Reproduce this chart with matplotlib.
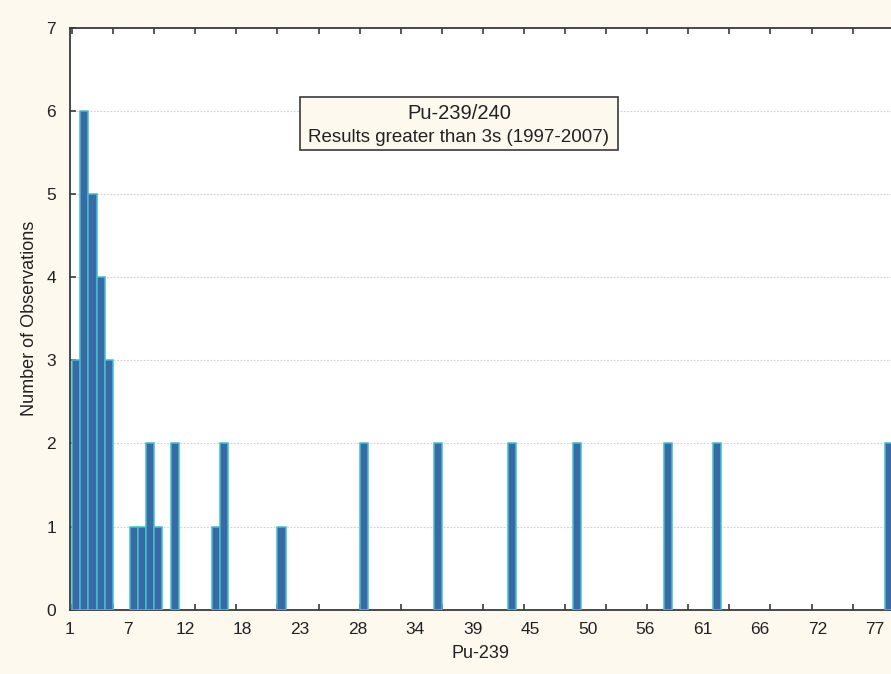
import matplotlib
matplotlib.use("Agg")
import matplotlib.pyplot as plt
from matplotlib.patches import Rectangle

plt.rcParams['font.family'] = ['Liberation Sans', 'DejaVu Sans']

# Histogram bins (bin index along the axis) and counts
bin_index = [0, 1, 2, 3, 4, 7, 8, 9, 10, 12, 17, 18, 25, 35, 44, 53, 61, 72, 78, 99]
counts = [3, 6, 5, 4, 3, 1, 1, 2, 1, 2, 1, 2, 1, 2, 2, 2, 2, 2, 2, 2]

# x tick labels (placed every 7 bins)
x_tick_labels = ['1', '7', '12', '18', '23', '28', '34', '39', '45', '50',
                 '56', '61', '66', '72', '77']
y_ticks = [0, 1, 2, 3, 4, 5, 6, 7]

title_line1 = 'Pu-239/240'
title_line2 = 'Results greater than 3s (1997-2007)'
x_label = 'Pu-239'
y_label = 'Number of Observations'

bg = '#FEF9EE'
W, H = 891, 674
fig = plt.figure(figsize=(W / 100, H / 100), dpi=100, facecolor=bg)

left_px, right_px, top_px, bottom_px = 70, 891, 28, 609.6
ax = fig.add_axes([left_px / W, 1 - bottom_px / H,
                   (right_px - left_px) / W, (bottom_px - top_px) / H])
ax.set_facecolor('white')

ax.bar(bin_index, counts, width=1, align='edge', color='#3A6AA6',
       edgecolor='#3EC0CC', linewidth=1.1, zorder=3)

ax.set_xlim(-0.2, 99.67)
ax.set_ylim(0, 7)

# grid
for y in y_ticks[1:-1]:
    ax.axhline(y, color='#CFCFCF', linewidth=0.8, linestyle=(0, (1.5, 1.5)), zorder=1)

# spines
for s in ['left', 'bottom', 'top']:
    ax.spines[s].set_color('#3A3A3A')
    ax.spines[s].set_linewidth(1.3)
ax.spines['right'].set_visible(False)

# x labels (no tick marks), minor ticks every 5 bins inward
ax.set_xticks([7 * i - 0.25 for i in range(len(x_tick_labels))])
ax.set_xticklabels(x_tick_labels, fontsize=12.5, color='#222222')
ax.tick_params(axis='x', which='major', length=0, pad=9)
ax.set_xticks(list(range(0, 100, 5)), minor=True)
ax.tick_params(axis='x', which='minor', direction='in', length=4, width=1.2,
               top=True, bottom=True, color='#3A3A3A')

ax.set_yticks(y_ticks)
ax.set_yticklabels([str(v) for v in y_ticks], fontsize=12.5, color='#222222')
ax.tick_params(axis='y', direction='in', length=4, width=1.2, pad=10, color='#3A3A3A')

ax.set_xlabel(x_label, fontsize=13, color='#222222', labelpad=6)
ax.set_ylabel(y_label, fontsize=13, color='#222222', labelpad=6)

# annotation box
bx0, bx1, by0, by1 = 300, 618, 96.7, 150
fig.add_artist(Rectangle((bx0 / W, 1 - by1 / H), (bx1 - bx0) / W, (by1 - by0) / H,
                         transform=fig.transFigure, facecolor=bg,
                         edgecolor='#3A3A3A', linewidth=1.2, zorder=5))
cx = (bx0 + bx1) / 2 / W
fig.text(cx, 1 - 113.5 / H, title_line1, ha='center', va='center',
         fontsize=14.5, color='#222222', zorder=6)
fig.text(cx, 1 - 137 / H, title_line2, ha='center', va='center',
         fontsize=13.5, color='#222222', zorder=6)

fig.savefig('out.png', dpi=100, facecolor=bg)
